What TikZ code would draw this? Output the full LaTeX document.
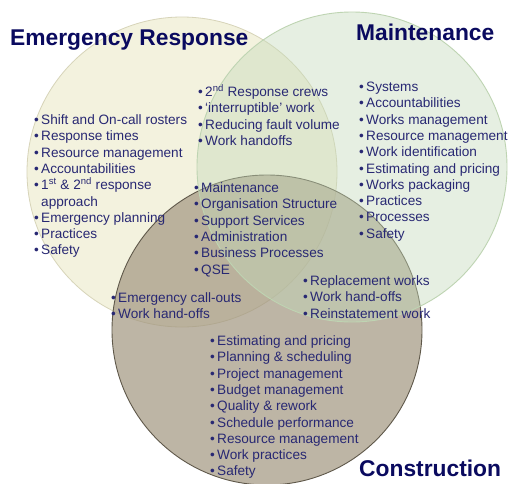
\documentclass[tikz,border=0pt]{standalone}
\usepackage{fontspec}
\setmainfont{Liberation Sans}
\definecolor{txt}{RGB}{40,40,115}
\definecolor{ttl}{RGB}{10,10,95}
\definecolor{erfill}{RGB}{236,234,200}
\definecolor{erline}{RGB}{215,212,185}
\definecolor{mfill}{RGB}{196,218,186}
\definecolor{mline}{RGB}{190,212,178}
\definecolor{cfill}{RGB}{162,150,128}
\definecolor{cline}{RGB}{95,88,74}
\newcommand\itm[1]{\makebox[7pt][l]{\textbullet}#1\\}
\newcommand\lst[1]{\parbox[t]{200pt}{\raggedright\fontsize{13.6}{16.3}\selectfont #1}}
\tikzset{
  listnode/.style={anchor=base west, inner sep=0pt, text=txt},
  title/.style={anchor=west, inner sep=0pt, text=ttl, font=\fontsize{22.8}{26}\selectfont\bfseries},
  circ/.style={circle, minimum size=310pt, inner sep=0pt}
}
\begin{document}
\begin{tikzpicture}[x=1pt,y=-1pt]
\useasboundingbox (0,0) rectangle (509,483);
\fill[white] (0,0) rectangle (509,483);
\node[circ, fill=erfill, fill opacity=0.6, draw=erline, line width=0.8pt] (er) at (182,172) {};
\node[circ, fill=cfill, fill opacity=0.7, draw=cline, line width=0.9pt] (co) at (267,330) {};
\node[circ, fill=mfill, fill opacity=0.42, draw=mline, line width=0.9pt] (ma) at (352,167) {};
\node[title] (ter) at (10,40) {Emergency Response};
\node[title] (tma) at (356,32) {Maintenance};
\node[title] (tco) at (359,468) {Construction};
\node[listnode] (ler) at (34,124.5) {\lst{\itm{Shift and On-call rosters}\itm{Response times}\itm{Resource management}\itm{Accountabilities}\itm{1\textsuperscript{st} \& 2\textsuperscript{nd} response}\hspace*{7pt}approach\\\itm{Emergency planning}\itm{Practices}\itm{Safety}}};
\node[listnode] (lem) at (198,96.5) {\lst{\itm{2\textsuperscript{nd} Response crews}\itm{‘interruptible’ work}\itm{Reducing fault volume}\itm{Work handoffs}}};
\node[listnode] (lall) at (194,192.5) {\lst{\itm{Maintenance}\itm{Organisation Structure}\itm{Support Services}\itm{Administration}\itm{Business Processes}\itm{QSE}}};
\node[listnode] (lma) at (359,91.5) {\lst{\itm{Systems}\itm{Accountabilities}\itm{Works management}\itm{Resource management}\itm{Work identification}\itm{Estimating and pricing}\itm{Works packaging}\itm{Practices}\itm{Processes}\itm{Safety}}};
\node[listnode] (lcm) at (303,285.5) {\lst{\itm{Replacement works}\itm{Work hand-offs}\itm{Reinstatement work}}};
\node[listnode] (lec) at (111,302.5) {\lst{\itm{Emergency call-outs}\itm{Work hand-offs}}};
\node[listnode] (lco) at (210,345.5) {\lst{\itm{Estimating and pricing}\itm{Planning \& scheduling}\itm{Project management}\itm{Budget management}\itm{Quality \& rework}\itm{Schedule performance}\itm{Resource management}\itm{Work practices}\itm{Safety}}};
\end{tikzpicture}
\end{document}
